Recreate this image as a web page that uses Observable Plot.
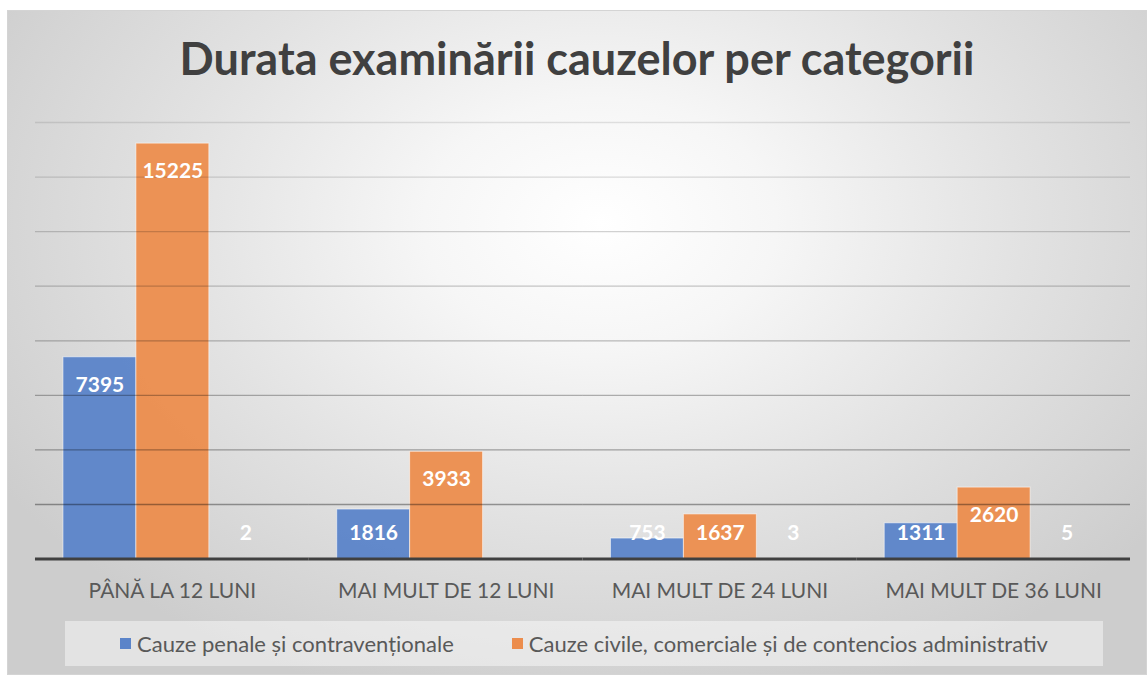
<!DOCTYPE html>
<html>
<head>
<meta charset="utf-8">
<script src="https://cdn.jsdelivr.net/npm/d3@7"></script>
<script src="https://cdn.jsdelivr.net/npm/@observablehq/plot@0.6"></script>
<style>
  body { margin: 0; background: #ffffff; }
  #chart {
    position: absolute; left: 7px; top: 10px; width: 1140px; height: 665px;
    box-sizing: border-box; border: 1px solid #d4d4d4; overflow: hidden;
    background: radial-gradient(ellipse 62% 75% at 52% 32%, #ffffff 0%, #f6f6f6 25%, #e2e2e2 60%, #cdcdcd 100%);
  }
  #title {
    position: absolute; left: 0; width: 100%; top: 20px; text-align: center;
    font-family: Lato, "Open Sans", sans-serif; font-weight: bold; font-size: 45px; color: #404040;
  }
  #plot { position: absolute; left: -8px; top: 89px; }
  #legend {
    position: absolute; left: 57px; top: 610px; width: 1038px; height: 45px;
    background: rgba(255,255,255,0.45);
    display: flex; align-items: center; justify-content: center; gap: 58px;
    font-family: Lato, "Open Sans", sans-serif; font-size: 22px; color: #595959;
  }
  .item { display: flex; align-items: center; gap: 6px; }
  .sw { width: 11px; height: 11px; display: inline-block; }
</style>
</head>
<body>
<div id="chart">
  <div id="title">Durata examinării cauzelor per categorii</div>
  <div id="plot"></div>
  <div id="legend"></div>
</div>
<script>
const categories = ["PÂNĂ LA 12 LUNI", "MAI MULT DE 12 LUNI", "MAI MULT DE 24 LUNI", "MAI MULT DE 36 LUNI"];
const seriesNames = ["Cauze penale și contravenționale", "Cauze civile, comerciale și de contencios administrativ", "Alte cauze"];
const penale = [7395, 1816, 753, 1311];
const civile = [15225, 3933, 1637, 2620];
const alte = [2, null, 3, 5];
const seriesColors = ["#5b84c9", "#ec8d4d", "#a5a5a5"];
const yTicks = [2000, 4000, 6000, 8000, 10000, 12000, 14000, 16000];
const legendSeries = [0, 1];

const seriesValues = [penale, civile, alte];
const data = [];
categories.forEach((c, i) => {
  seriesNames.forEach((s, j) => {
    const v = seriesValues[j][i];
    if (v != null) data.push({category: c, series: s, value: v});
  });
});

const labelFloor = 1980;

const chart = Plot.plot({
  width: 1147,
  height: 510,
  marginLeft: 35,
  marginRight: 16,
  marginTop: 22,
  marginBottom: 51,
  style: {fontFamily: "Lato, 'Open Sans', sans-serif", fontSize: "21px", color: "#595959", background: "transparent", overflow: "visible"},
  fx: {domain: categories, padding: 0, label: null, axis: "bottom", tickSize: 0, tickPadding: 24},
  x: {domain: seriesNames, paddingInner: 0, paddingOuter: 0.36, axis: null},
  y: {domain: [0, 16000], axis: null},
  color: {domain: seriesNames, range: seriesColors},
  marks: [
    Plot.barY(data, {fx: "category", x: "series", y: "value", fill: "series", stroke: "#ffffff", strokeOpacity: 0.55, strokeWidth: 1, fillOpacity: 0.95}),
    Plot.ruleY(yTicks, {stroke: d => `rgba(0,0,0,${(0.1 + 0.3 * (1 - d / 16000)).toFixed(3)})`, strokeWidth: 1.3}),
    Plot.ruleY([0], {stroke: "#404040", strokeWidth: 3}),
    Plot.text(data, {fx: "category", x: "series", y: d => Math.max(d.value, labelFloor), dy: 28, text: d => String(d.value), fill: "#ffffff", fontWeight: "bold", fontSize: 21})
  ]
});
document.getElementById("plot").appendChild(chart);

const legend = document.getElementById("legend");
legendSeries.forEach(j => {
  const it = document.createElement("div");
  it.className = "item";
  const sw = document.createElement("span");
  sw.className = "sw";
  sw.style.background = seriesColors[j];
  const tx = document.createElement("span");
  tx.textContent = seriesNames[j];
  it.appendChild(sw);
  it.appendChild(tx);
  legend.appendChild(it);
});
</script>
</body>
</html>
